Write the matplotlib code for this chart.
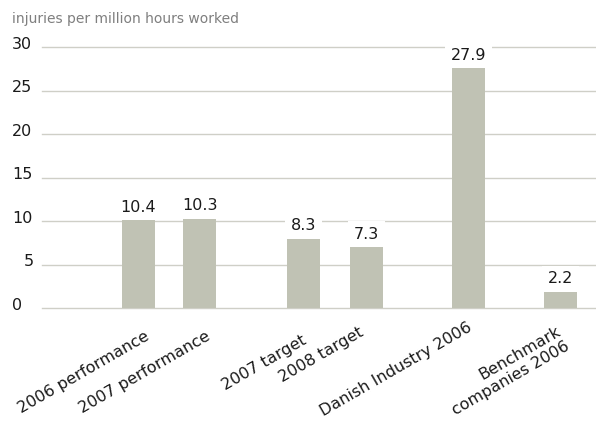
import matplotlib
matplotlib.use("Agg")
import matplotlib.pyplot as plt
import matplotlib.transforms as mtransforms

categories = ["2006 performance", "2007 performance", "2007 target",
              "2008 target", "Danish Industry 2006", "Benchmark\ncompanies 2006"]
values = [10.4, 10.6, 8.3, 7.3, 27.9, 2.2]          # bar heights as drawn
value_labels = ["10.4", "10.3", "8.3", "7.3", "27.9", "2.2"]
yticks = [0, 5, 10, 15, 20, 25, 30]
title = "injuries per million hours worked"

# slot positions in the original layout (pixels across the figure)
positions = [138.5, 199.5, 303.5, 366.5, 468.5, 560.5]
# small per-label nudges (pixels) of the rotated category labels
label_dx = [6, 6, -2, -8, -2, -5]
label_dy = [0, 0, -4, 4, 9, 5]

bar_color = "#c0c2b4"
grid_color = "#cfcfc7"
text_color = "#1a1a1a"

fig = plt.figure(figsize=(5.96, 4.22), dpi=100)
ax = fig.add_axes([42 / 596, 114 / 422, 1 - 42 / 596, (374.7 - 114) / 422])
ax.set_xlim(42, 596)
ax.set_ylim(0, 30)

for t in yticks:
    ax.axhline(t, color=grid_color, lw=1.0, zorder=0, clip_on=False)

ax.bar(positions, values, width=33, color=bar_color, zorder=2)

for x, v, lab in zip(positions, values, value_labels):
    ax.annotate(lab, (x, v), xytext=(0, 2), textcoords="offset points",
                ha="center", va="bottom", fontsize=11.5, color=text_color,
                bbox=dict(boxstyle="square,pad=0.35", fc="white", ec="none"),
                zorder=3)

for s in ax.spines.values():
    s.set_visible(False)
ax.set_yticks([])
ax.tick_params(axis="x", length=0, pad=15)

ax.set_xticks(positions)
ax.set_xticklabels(categories, rotation=30, ha="right", rotation_mode="anchor",
                   fontsize=11.5, color=text_color, multialignment="right")
for lbl, dx, dy in zip(ax.get_xticklabels(), label_dx, label_dy):
    off = mtransforms.ScaledTranslation(dx / 100, dy / 100, fig.dpi_scale_trans)
    lbl.set_transform(lbl.get_transform() + off)

# y tick labels sit a little above their gridlines
ytrans = mtransforms.blended_transform_factory(fig.transFigure, ax.transData)
ytrans = ytrans + mtransforms.ScaledTranslation(0, 3 / 100, fig.dpi_scale_trans)
for t in yticks:
    txt = str(t)
    if len(txt) == 2 or t == 0:
        ax.text(12 / 596, t, txt, transform=ytrans, ha="left", va="center",
                fontsize=11.5, color=text_color, clip_on=False)
    else:
        ax.text(34 / 596, t, txt, transform=ytrans, ha="right", va="center",
                fontsize=11.5, color=text_color, clip_on=False)

fig.text(12 / 596, 1 - 19 / 422, title, ha="left", va="center",
         fontsize=10, color="#7f7f7f")

fig.savefig("out.png", dpi=100)
